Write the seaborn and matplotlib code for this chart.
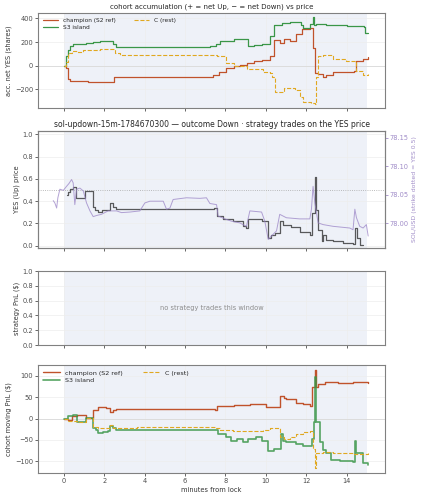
import matplotlib
matplotlib.use("Agg")
import matplotlib.pyplot as plt
import seaborn as sns
import pandas as pd

# ---------------- data ----------------
# panel 1: cohort accumulation (net YES shares), step series
champ_acc_t = [0, 0.12, 0.22, 0.3, 0.6, 1.2, 2.0, 2.5, 4.0, 6.7, 7.1, 7.4, 7.7, 8.05, 8.4, 8.7, 9.05,
               9.4, 9.8, 10.2, 10.4, 10.7, 10.9, 11.2, 11.5, 11.8, 12.2, 12.35, 12.45, 12.6, 12.85,
               13.0, 13.35, 14.35, 14.45, 14.8, 15.07]
champ_acc_v = [0, -20, -111, -125, -130, -137, -140, -97, -92, -95, -91, -77, -49, -20, -6, 9, 23,
               37, 51, 80, 215, 195, 223, 209, 266, 312, 320, 150, -63, -69, -91,
               -80, -49, -43, 37, 57, 71]
s3_acc_t = [0, 0.1, 0.2, 0.3, 0.45, 1.1, 1.45, 1.8, 2.3, 2.45, 2.6, 7.05, 7.25, 7.55, 7.75, 8.4,
            9.1, 9.4, 9.8, 10.2, 10.4, 10.8, 11.2, 11.75, 11.85, 12.2, 12.32, 12.38, 12.5, 13.0,
            14.0, 14.85, 14.9, 15.07]
s3_acc_v = [0, 80, 137, 166, 186, 194, 200, 206, 209, 180, 157, 160, 171, 185, 209, 229,
            166, 175, 180, 251, 343, 357, 366, 343, 323, 351, 409, 343, 351, 348,
            337, 330, 280, 280]
rest_acc_t = [0, 0.1, 0.2, 0.38, 0.63, 0.96, 1.8, 2.45, 2.52, 2.77, 7.06, 7.56, 8.05, 8.4, 9.05,
              9.87, 10.2, 10.3, 10.45, 10.9, 11.44, 11.7, 11.85, 12.26, 12.42, 12.5, 12.59, 12.84,
              13.33, 13.99, 14.45, 14.82, 15.07]
rest_acc_v = [0, 30, 109, 123, 114, 137, 143, 143, 109, 94, 94, 80, 23, -6, -25,
              -49, -63, -91, -220, -191, -206, -263, -306, -314, -320, -91, 80, 94,
              57, 37, -43, -77, -69]

# panel 2: YES price (steps) and SOL/USD
yes_t = [0.13, 0.2, 0.3, 0.45, 0.6, 1.05, 1.42, 1.55, 1.7, 1.9, 2.3, 2.45, 2.6, 7.3, 7.45, 7.56,
         7.9, 8.38, 8.88, 9.04, 9.13, 9.79, 10.12, 10.28, 10.45, 10.69, 10.86, 11.27, 11.68,
         12.18, 12.31, 12.43, 12.51, 12.59, 12.76, 12.84, 13.0, 13.33, 13.83, 14.32, 14.41,
         14.52, 14.65, 14.82]
yes_v = [0.457, 0.487, 0.507, 0.525, 0.427, 0.496, 0.346, 0.322, 0.307, 0.322, 0.382, 0.352,
         0.328, 0.331, 0.337, 0.263, 0.239, 0.218, 0.173, 0.158, 0.239, 0.218, 0.069, 0.099,
         0.113, 0.218, 0.188, 0.164, 0.128, 0.099, 0.293, 0.621, 0.322, 0.143, 0.039, 0.099,
         0.054, 0.039, 0.024, 0.018, 0.158, 0.069, 0.009, 0.009]
sol_t = [-0.53, -0.45, -0.36, -0.3, -0.2, -0.03, 0.13, 0.25, 0.38, 0.46, 0.54, 0.63, 0.79, 0.96,
         1.12, 1.29, 1.45, 1.62, 1.86, 2.19, 2.61, 2.85, 3.27, 3.76, 4.01, 4.26, 4.92, 5.08,
         5.25, 5.41, 6.07, 6.73, 7.06, 7.23, 7.56, 7.64, 8.05, 8.3, 8.71, 9.04, 9.21, 9.79,
         9.95, 10.12, 10.28, 10.53, 10.69, 11.02, 11.68, 12.18, 12.26, 12.34, 12.43, 12.59,
         12.84, 13.33, 14.16, 14.32, 14.41, 14.49, 14.65, 14.82, 14.98, 15.07]
sol_v = [78.040, 78.036, 78.027, 78.045, 78.060, 78.058, 78.065, 78.070, 78.077, 78.071, 78.033,
         78.060, 78.062, 78.057, 78.036, 78.022, 78.012, 78.014, 78.016, 78.022, 78.022, 78.019,
         78.020, 78.022, 78.036, 78.039, 78.039, 78.025, 78.027, 78.042, 78.045, 78.044, 78.045,
         78.035, 78.033, 78.013, 78.007, 78.004, 78.001, 77.995, 78.022, 78.020, 78.004, 77.972,
         77.978, 77.987, 78.016, 78.010, 78.008, 78.008, 78.025, 78.065, 78.036, 78.001, 77.998,
         77.995, 77.992, 77.989, 78.025, 78.010, 77.995, 77.992, 77.998, 77.978]
strike = 78.0595

# panel 4: cohort moving PnL ($)
champ_pnl_t = [0, 0.2, 0.38, 0.63, 1.09, 1.42, 1.7, 2.1, 2.3, 2.45, 2.6, 7.5, 7.56, 8.4, 9.2,
               10.03, 10.69, 10.9, 11.0, 11.5, 11.85, 12.2, 12.31, 12.43, 12.51, 12.6, 12.92,
               13.6, 14.3, 15.07]
champ_pnl_v = [0, -3, 5, 9, 2, 21, 27, 25, 15, 21, 23, 21, 29, 31, 33,
               27, 53, 48, 45, 37, 33, 29, 73, 114, 73, 81, 85,
               83, 85, 83]
s3_pnl_t = [0, 0.2, 0.46, 0.63, 1.09, 1.42, 1.6, 1.7, 1.95, 2.2, 2.28, 2.45, 2.6, 7.5, 7.64,
            8.05, 8.3, 8.55, 8.88, 9.1, 9.5, 9.8, 10.12, 10.4, 10.74, 10.85, 11.0, 11.52,
            11.85, 12.3, 12.37, 12.43, 12.51, 12.67, 12.84, 13.0, 13.25, 13.66, 14.32, 14.41,
            14.49, 14.65, 14.82, 15.07]
s3_pnl_v = [0, 5, 9, -7, 2, -23, -27, -33, -31, -29, -17, -23, -27, -26, -35,
            -43, -52, -48, -54, -49, -43, -52, -76, -72, -35, -52, -54, -60,
            -64, -48, -7, 97, -7, -56, -73, -80, -96, -100, -102, -52,
            -80, -81, -104, -108]
rest_pnl_t = [0, 0.2, 0.63, 1.09, 1.42, 1.7, 2.28, 2.45, 3.6, 7.5, 7.72, 8.38, 9.2, 9.87, 10.2,
              10.69, 10.9, 11.19, 11.52, 11.85, 12.18, 12.34, 12.43, 12.51, 12.84, 13.33, 14.32,
              15.07]
rest_pnl_v = [0, -6, -9, 2, -19, -23, -15, -21, -19, -22, -27, -29, -30, -27, -23,
              -43, -48, -43, -35, -31, -30, -72, -116, -80, -78, -81, -84,
              -81]

labels = ["champion (S2 ref)", "S3 island", "C (rest)"]
xticks = [0, 2, 4, 6, 8, 10, 12, 14]

# ---------------- style ----------------
sns.set_style("whitegrid", {"axes.edgecolor": "0.5", "grid.color": "0.93",
                            "xtick.bottom": True, "ytick.left": True,
                            "axes.linewidth": 1.0})
plt.rcParams["font.family"] = ["DejaVu Sans"]
plt.rcParams["xtick.labelsize"] = 4.8
plt.rcParams["ytick.labelsize"] = 4.8
plt.rcParams["xtick.major.size"] = 2
plt.rcParams["ytick.major.size"] = 2
plt.rcParams["xtick.major.pad"] = 1.5
plt.rcParams["ytick.major.pad"] = 1.5
plt.rcParams["xtick.major.width"] = 0.6
plt.rcParams["ytick.major.width"] = 0.6
plt.rcParams["xtick.color"] = "0.3"
plt.rcParams["ytick.color"] = "0.3"
plt.rcParams["axes.labelcolor"] = "0.2"

C_CHAMP = "#c0522b"
C_S3 = "#3a9648"
C_REST = "#e0a820"
SHADE = "#eef1f8"
LAB = 4.8

fig = plt.figure(figsize=(4.23, 5.0), dpi=100)
L, W = 0.09, 0.82
ax1 = fig.add_axes([L, 0.784, W, 0.190])
ax2 = fig.add_axes([L, 0.504, W, 0.234], sharex=ax1)
ax3 = fig.add_axes([L, 0.310, W, 0.148], sharex=ax1)
ax4 = fig.add_axes([L, 0.054, W, 0.216], sharex=ax1)

for ax in (ax1, ax2, ax3, ax4):
    ax.axvspan(0, 15, color=SHADE, zorder=0, lw=0)
    ax.grid(True, lw=0.5)

def step(ax, t, v, color, label, ls="-", lw=0.9, alpha=1.0):
    df = pd.DataFrame({"t": t, "v": v})
    sns.lineplot(data=df, x="t", y="v", ax=ax, color=color, label=label, linestyle=ls,
                 lw=lw, alpha=alpha, drawstyle="steps-post", estimator=None, sort=False)

# panel 1
step(ax1, champ_acc_t, champ_acc_v, C_CHAMP, labels[0])
step(ax1, s3_acc_t, s3_acc_v, C_S3, labels[1])
step(ax1, rest_acc_t, rest_acc_v, C_REST, labels[2], ls="--", lw=0.8)
ax1.axhline(0, color="0.85", lw=0.6, zorder=1)
ax1.set_title("cohort accumulation (+ = net Up, \u2212 = net Down) vs price", fontsize=5.0, pad=3)
ax1.set_ylabel("acc. net YES (shares)", fontsize=LAB, labelpad=2)
ax1.set_xlabel("")
ax1.set_yticks([-200, 0, 200, 400])
ax1.legend(loc="upper left", ncol=2, fontsize=4.2, frameon=False, handlelength=2.6,
           columnspacing=3.2, borderaxespad=0.4, labelspacing=0.35)

# panel 2
df_yes = pd.DataFrame({"t": yes_t, "v": yes_v})
sns.lineplot(data=df_yes, x="t", y="v", ax=ax2, color="0.15", lw=0.9, alpha=0.75,
             drawstyle="steps-post", estimator=None, sort=False)
ax2.axhline(0.5, color="0.65", lw=0.6, ls=":", zorder=1)
ax2.set_ylim(-0.02, 1.03)
ax2.set_yticks([0.0, 0.2, 0.4, 0.6, 0.8, 1.0])
ax2.set_ylabel("YES (Up) price", fontsize=LAB, labelpad=2)
ax2.set_xlabel("")
ax2.set_title("sol-updown-15m-1784670300 \u2014 outcome Down \u00b7 strategy trades on the YES price",
              fontsize=5.5, pad=3)
tw = ax2.twinx()
df_sol = pd.DataFrame({"t": sol_t, "v": sol_v})
sns.lineplot(data=df_sol, x="t", y="v", ax=tw, color="#9a84c6", lw=0.7, alpha=0.75,
             estimator=None, sort=False)
half = 0.1025
tw.set_ylim(strike - half, strike + half)
tw.set_yticks([78.00, 78.05, 78.10, 78.15])
tw.grid(False)
tw.tick_params(axis="y", colors="#a08cc8", labelsize=4.8)
tw.set_ylabel("SOL/USD (strike dotted = YES 0.5)", fontsize=4.4, color="#a08cc8", labelpad=2)
tw.spines["right"].set_color("0.5")

# panel 3
ax3.set_ylim(0, 1)
ax3.set_yticks([0.0, 0.2, 0.4, 0.6, 0.8, 1.0])
ax3.set_ylabel("strategy PnL ($)", fontsize=LAB, labelpad=2)
ax3.text(0.5, 0.5, "no strategy trades this window", transform=ax3.transAxes,
         ha="center", va="center", fontsize=4.8, color="0.55")

# panel 4
step(ax4, champ_pnl_t, champ_pnl_v, C_CHAMP, labels[0], lw=1.0)
step(ax4, s3_pnl_t, s3_pnl_v, C_S3, labels[1], lw=1.2, alpha=0.85)
step(ax4, rest_pnl_t, rest_pnl_v, C_REST, labels[2], ls="--", lw=0.8)
ax4.axhline(0, color="0.85", lw=0.6, zorder=1)
ax4.set_ylabel("cohort moving PnL ($)", fontsize=LAB, labelpad=2)
ax4.set_xlabel("minutes from lock", fontsize=LAB, labelpad=2)
ax4.set_yticks([-100, -50, 0, 50, 100])
ax4.legend(loc="upper left", ncol=2, fontsize=4.6, frameon=False, handlelength=2.6,
           columnspacing=3.2, borderaxespad=0.4, labelspacing=0.35)

ax4.set_xlim(-1.28, 15.9)
ax4.set_xticks(xticks)
for ax in (ax1, ax2, ax3):
    ax.tick_params(axis="x", labelbottom=False)
    ax.set_xlabel("")

fig.savefig("out.png", dpi=100)
